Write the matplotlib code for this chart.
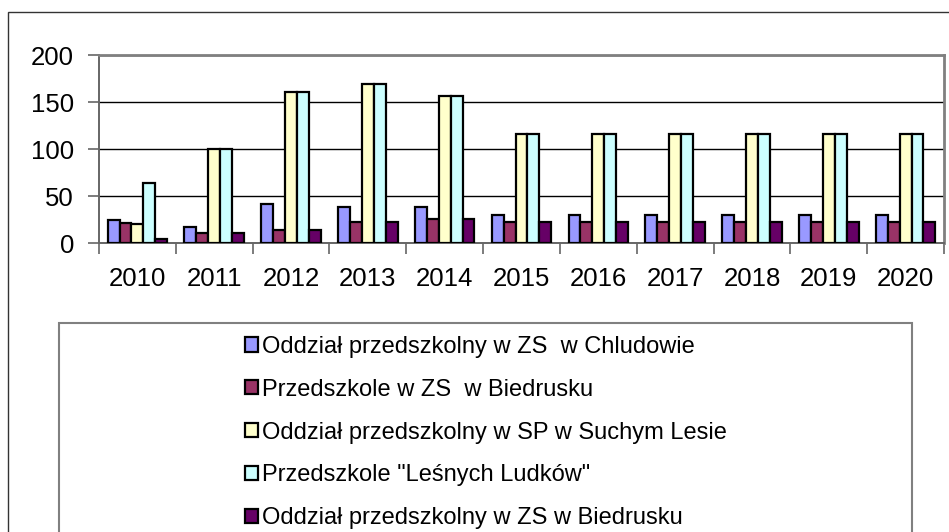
import numpy as np
import matplotlib
matplotlib.use("Agg")
import matplotlib.pyplot as plt
from matplotlib.patches import Rectangle

plt.rcParams['font.family'] = ['Liberation Sans', 'DejaVu Sans']

# liczba dzieci w poszczegolnych placowkach
years = ['2010', '2011', '2012', '2013', '2014', '2015', '2016', '2017', '2018', '2019', '2020']
chludowo = [25, 17, 41, 38, 38, 30, 30, 30, 30, 30, 30]
przedszkole_biedrusko = [21, 11, 14, 22, 26, 22, 22, 22, 22, 22, 22]
suchy_las = [20, 100, 161, 169, 156, 116, 116, 116, 116, 116, 116]
lesne_ludki = [64, 100, 161, 169, 156, 116, 116, 116, 116, 116, 116]
oddzial_biedrusko = [4, 11, 14, 22, 26, 22, 22, 22, 22, 22, 22]

series = [chludowo, przedszkole_biedrusko, suchy_las, lesne_ludki, oddzial_biedrusko]
labels = ['Oddział przedszkolny w ZS  w Chludowie',
          'Przedszkole w ZS  w Biedrusku',
          'Oddział przedszkolny w SP w Suchym Lesie',
          'Przedszkole "Leśnych Ludków"',
          'Oddział przedszkolny w ZS w Biedrusku']
colors = ['#9999FF', '#993366', '#FFFFCC', '#CCFFFF', '#660066']

W, H = 949, 532
fig = plt.figure(figsize=(W / 100, H / 100), dpi=100)
ax = fig.add_axes([99 / W, 1 - 243 / H, (944 - 99) / W, (243 - 55) / H])

x = np.arange(len(years))
bw = 0.155
bars = []
for i, (vals, col) in enumerate(zip(series, colors)):
    b = ax.bar(x + (i - 2) * bw, vals, bw, color=col, edgecolor='black',
               linewidth=1.6, zorder=3)
    bars.append(b)

ax.set_xlim(-0.5, len(years) - 0.5)
ax.set_ylim(0, 200)
ax.set_yticks([0, 50, 100, 150, 200])
ax.set_xticks(x)
ax.set_xticklabels(years)
ax.set_xticks(np.arange(-0.5, len(years)), minor=True)
ax.tick_params(axis='x', which='major', length=0, labelsize=18.5, pad=17)
ax.tick_params(axis='x', which='minor', length=8, width=1.2, color='#666666')
ax.tick_params(axis='y', length=8, width=1.2, color='#666666', labelsize=18.5, pad=10)
ax.yaxis.grid(True, color='black', linewidth=1, zorder=1)

for side in ['top', 'right']:
    ax.spines[side].set_color('#808080')
    ax.spines[side].set_linewidth(2)
for side in ['left', 'bottom']:
    ax.spines[side].set_color('#666666')
    ax.spines[side].set_linewidth(1.4)

# ramka wykresu i ramka legendy
fig.patches.append(Rectangle((8 / W, -0.1), 1.2, 1 - 12 / H + 0.1,
                             transform=fig.transFigure, fill=False,
                             edgecolor='#333333', linewidth=1))
fig.patches.append(Rectangle((59 / W, -0.1), (912 - 59) / W, 1 - 323 / H + 0.1,
                             transform=fig.transFigure, fill=False,
                             edgecolor='#808080', linewidth=1.5))

leg = fig.legend(bars, labels, loc='center', bbox_to_anchor=(486 / W, 1 - 432.5 / H),
                 frameon=False, fontsize=17, handlelength=0.55, handleheight=0.55,
                 handletextpad=0.2, labelspacing=0.88)
for h in leg.legend_handles:
    h.set_linewidth(1.6)

fig.savefig('out.png', dpi=100)
